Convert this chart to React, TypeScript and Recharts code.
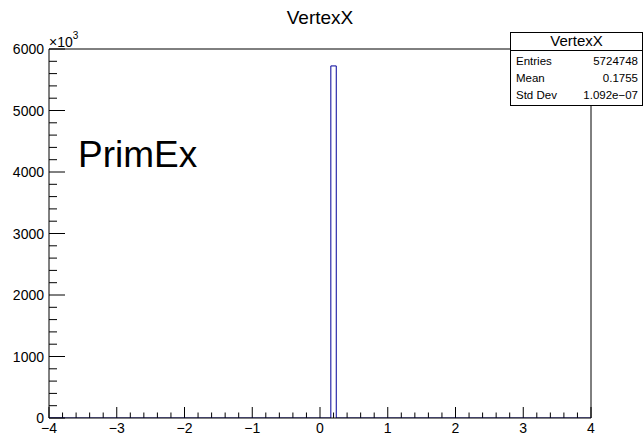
import React from "react";
import { ComposedChart, Line, XAxis, YAxis, ReferenceLine } from "recharts";

// Histogram outline (bin low edges and contents, in units of 10^3 entries)
const histEdges = [-4, 0.16, 0.24, 4];
const histCounts = [0, 5724.748, 0, 0];

const xMajorTicks = [-4, -3, -2, -1, 0, 1, 2, 3, 4];
const xTickLabels = ["−4", "−3", "−2", "−1", "0", "1", "2", "3", "4"];
const yMajorTicks = [0, 1000, 2000, 3000, 4000, 5000, 6000];
const yTickLabels = ["0", "1000", "2000", "3000", "4000", "5000", "6000"];

const statsTitle = "VertexX";
const statsLabels = ["Entries", "Mean", "Std Dev"];
const statsValues = ["5724748", "0.1755", "1.092e−07"];
const chartTitle = "VertexX";
const annotation = "PrimEx";

const X_MIN = -4;
const X_MAX = 4;
const Y_MIN = 0;
const Y_MAX = 6000;

const data = histEdges.map((e, i) => ({ edge: e, count: histCounts[i] }));

// ROOT-style tick marks inside the frame (major + minor)
const xAllTicks: number[] = [];
for (let i = 0; i <= 40; i++) xAllTicks.push(Math.round((X_MIN + i * 0.2) * 10) / 10);
const yAllTicks: number[] = [];
for (let i = 0; i <= 30; i++) yAllTicks.push(i * 200);

const isMajor = (arr: number[], v: number) => arr.some((m) => Math.abs(m - v) < 1e-6);

// plot area size in px (used to express tick lengths in data units)
const PLOT_W = 542;
const PLOT_H = 369;
const xTickLen = (px: number) => (px * (Y_MAX - Y_MIN)) / PLOT_H;
const yTickLen = (px: number) => (px * (X_MAX - X_MIN)) / PLOT_W;

const FONT = "'Liberation Sans', Arial, Helvetica, sans-serif";

const XTick = (props: any) => {
  const { x, y, payload } = props;
  const idx = xMajorTicks.findIndex((m) => Math.abs(m - payload.value) < 1e-6);
  if (idx < 0) return <g />;
  return (
    <text x={x} y={y + 15} textAnchor="middle" fontSize={14} fontFamily={FONT} fill="#000">
      {xTickLabels[idx]}
    </text>
  );
};

const YTick = (props: any) => {
  const { x, y, payload } = props;
  const idx = yMajorTicks.findIndex((m) => Math.abs(m - payload.value) < 1e-6);
  if (idx < 0) return <g />;
  return (
    <text x={x - 5} y={y + 5} textAnchor="end" fontSize={14} fontFamily={FONT} fill="#000">
      {yTickLabels[idx]}
    </text>
  );
};

export default function App() {
  return (
    <div style={{ position: "absolute", left: 0, top: 0, width: 644, height: 437, background: "#fff" }}>
      <ComposedChart
        width={644}
        height={437}
        data={data}
        margin={{ top: 49, right: 53, bottom: 0, left: 0 }}
      >
        <XAxis
          dataKey="edge"
          type="number"
          domain={[X_MIN, X_MAX]}
          ticks={xMajorTicks}
          interval={0}
          tickSize={0}
          tickMargin={0}
          tickLine={false}
          tick={XTick}
          height={19}
          axisLine={{ stroke: "#000" }}
          allowDataOverflow
        />
        <YAxis
          type="number"
          domain={[Y_MIN, Y_MAX]}
          ticks={yMajorTicks}
          interval={0}
          tickSize={0}
          tickMargin={0}
          tickLine={false}
          tick={YTick}
          width={49}
          axisLine={{ stroke: "#000" }}
          allowDataOverflow
        />
        <ReferenceLine y={Y_MAX} stroke="#000" strokeWidth={1} ifOverflow="visible" />
        <ReferenceLine x={X_MAX} stroke="#000" strokeWidth={1} ifOverflow="visible" />
        {xAllTicks.map((v) => (
          <ReferenceLine
            key={"xt" + v}
            segment={[
              { x: v, y: Y_MIN },
              { x: v, y: Y_MIN + xTickLen(isMajor(xMajorTicks, v) ? 11 : 5.5) },
            ]}
            stroke="#000"
            strokeWidth={1}
            ifOverflow="visible"
          />
        ))}
        {yAllTicks.map((v) => (
          <ReferenceLine
            key={"yt" + v}
            segment={[
              { x: X_MIN, y: v },
              { x: X_MIN + yTickLen(isMajor(yMajorTicks, v) ? 16 : 8), y: v },
            ]}
            stroke="#000"
            strokeWidth={1}
            ifOverflow="visible"
          />
        ))}
        <Line
          dataKey="count"
          type="stepAfter"
          stroke="#000099"
          strokeWidth={1}
          dot={false}
          activeDot={false}
          isAnimationActive={false}
        />
      </ComposedChart>
      <svg
        width={644}
        height={437}
        style={{ position: "absolute", left: 0, top: 0, pointerEvents: "none" }}
      >
        <text x={320} y={24} textAnchor="middle" fontSize={19} fontFamily={FONT} fill="#000">
          {chartTitle}
        </text>
        <text x={49} y={47} fontSize={14} fontFamily={FONT} fill="#000">
          ×10
          <tspan fontSize={10} dy={-8}>3</tspan>
        </text>
        <text x={78} y={167} fontSize={37} fontFamily={FONT} fill="#000">
          {annotation}
        </text>
        <rect x={510.5} y={32.5} width={132} height={73} fill="#fff" stroke="#000" strokeWidth={1} />
        <line x1={510.5} x2={642.5} y1={50.5} y2={50.5} stroke="#000" strokeWidth={1} />
        <text x={576.5} y={46} textAnchor="middle" fontSize={15} fontFamily={FONT} fill="#000">
          {statsTitle}
        </text>
        {statsLabels.map((l, i) => (
          <g key={l}>
            <text x={516} y={65 + i * 17} fontSize={11.5} fontFamily={FONT} fill="#000">
              {l}
            </text>
            <text x={638} y={65 + i * 17} textAnchor="end" fontSize={11.5} fontFamily={FONT} fill="#000">
              {statsValues[i]}
            </text>
          </g>
        ))}
      </svg>
    </div>
  );
}
